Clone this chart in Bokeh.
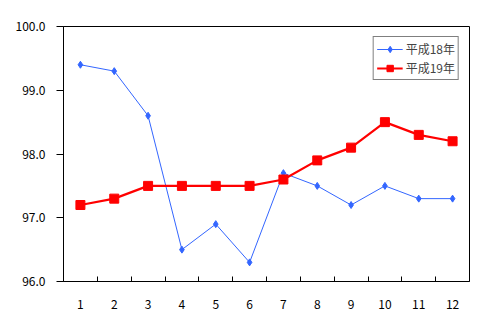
from bokeh.plotting import figure
from bokeh.models import Range1d, FixedTicker, Legend, LegendItem, CustomJSTickFormatter
from bokeh.embed import file_html
from bokeh.resources import INLINE

months = [1, 2, 3, 4, 5, 6, 7, 8, 9, 10, 11, 12]
h18 = [99.4, 99.3, 98.6, 96.5, 96.9, 96.3, 97.7, 97.5, 97.2, 97.5, 97.3, 97.3]
h19 = [97.2, 97.3, 97.5, 97.5, 97.5, 97.5, 97.6, 97.9, 98.1, 98.5, 98.3, 98.2]
y_ticks = [96, 97, 98, 99, 100]
series_names = ["平成18年", "平成19年"]

FONT = "Noto Sans CJK JP"

p = figure(width=495, height=328, output_backend="svg", toolbar_location=None,
           x_range=Range1d(0.5, 12.5), y_range=Range1d(96, 100),
           min_border_left=63, min_border_right=26, min_border_top=26, min_border_bottom=47)
p.background_fill_color = "white"
p.border_fill_color = "white"
p.outline_line_color = "black"
p.outline_line_width = 1
p.outline_line_alpha = 1
p.grid.visible = False

b1 = p.line(months, h18, color="#3366FF", line_width=1)
b2 = p.scatter(months, h18, marker="diamond", size=7, color="#3366FF")
r1 = p.line(months, h19, color="#FF0000", line_width=2.2)
r2 = p.scatter(months, h19, marker="square", size=9, color="#FF0000")

xa = p.xaxis[0]
xa.ticker = FixedTicker(ticks=months, minor_ticks=[m + 0.5 for m in months[:-1]])
xa.major_tick_line_color = None
xa.minor_tick_in = 5
xa.minor_tick_out = 0
xa.minor_tick_line_color = "black"
xa.axis_line_color = "black"
xa.major_label_standoff = 12
xa.major_label_text_font = FONT
xa.major_label_text_font_size = "12px"
xa.major_label_text_color = "black"

ya = p.yaxis[0]
ya.ticker = FixedTicker(ticks=y_ticks)
ya.formatter = CustomJSTickFormatter(code="return tick.toFixed(1);")
ya.major_tick_out = 7
ya.major_tick_in = 0
ya.minor_tick_line_color = None
ya.major_tick_line_color = "black"
ya.axis_line_color = "black"
ya.major_label_standoff = 11
ya.major_label_text_font = FONT
ya.major_label_text_font_size = "12px"
ya.major_label_text_color = "black"

legend = Legend(items=[LegendItem(label=series_names[0], renderers=[b1, b2]),
                       LegendItem(label=series_names[1], renderers=[r1, r2])],
                location="top_right", margin=10, padding=3, spacing=2,
                glyph_width=26, glyph_height=16, label_height=16,
                label_standoff=3,
                label_text_font=FONT, label_text_font_size="12px",
                border_line_color="black", border_line_width=1,
                background_fill_alpha=1)
p.add_layout(legend)

open("out.html", "w").write(file_html(p, INLINE))
